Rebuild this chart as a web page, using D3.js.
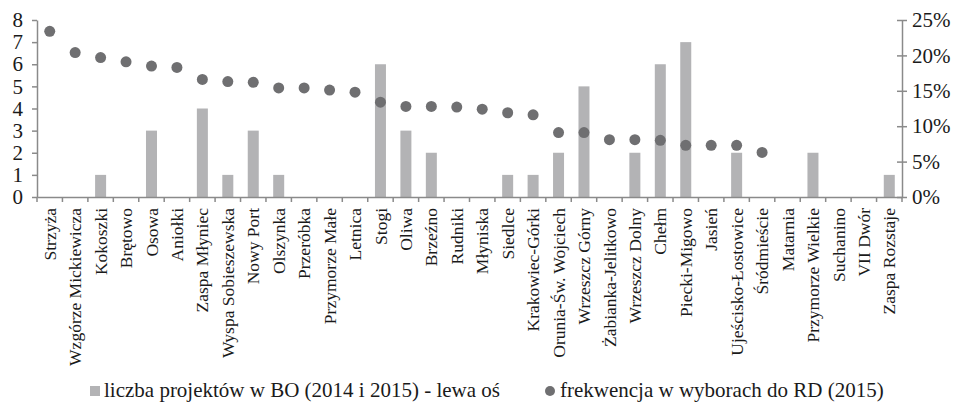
<!DOCTYPE html>
<html><head><meta charset="utf-8">
<script src="https://cdn.jsdelivr.net/npm/d3@7"></script>
<style>
html,body{margin:0;padding:0;background:#fff;}
svg{display:block;font-family:"Liberation Serif","Times New Roman",serif;}
</style></head>
<body>
<svg id="c" width="960" height="406"></svg>
<script>
const categories = ["Strzyża","Wzgórze Mickiewicza","Kokoszki","Brętowo","Osowa","Aniołki","Zaspa Młyniec","Wyspa Sobieszewska","Nowy Port","Olszynka","Przeróbka","Przymorze Małe","Letnica","Stogi","Oliwa","Brzeźno","Rudniki","Młyniska","Siedlce","Krakowiec-Górki","Orunia-Św. Wojciech","Wrzeszcz Górny","Żabianka-Jelitkowo","Wrzeszcz Dolny","Chełm","Piecki-Migowo","Jasień","Ujeścisko-Łostowice","Śródmieście","Matarnia","Przymorze Wielkie","Suchanino","VII Dwór","Zaspa Rozstaje"];
const projects = [0,0,1,0,3,0,4,1,3,1,0,0,0,6,3,2,0,0,1,1,2,5,0,2,6,7,0,2,0,0,2,0,0,1];
const turnout = [23.4,20.4,19.7,19.1,18.5,18.3,16.6,16.3,16.2,15.4,15.4,15.1,14.8,13.4,12.8,12.8,12.7,12.4,11.9,11.6,9.1,9.1,8.1,8.1,8.0,7.3,7.3,7.3,6.3,null,null,null,null,null];
const leftTicks = [0,1,2,3,4,5,6,7,8];
const rightTicks = [0,5,10,15,20,25];
const legendLabels = ["liczba projektów w BO (2014 i 2015) - lewa oś","frekwencja w wyborach do RD (2015)"];

const svg = d3.select("#c");
const X0 = 37, X1 = 902, Y0 = 197, Y1 = 20;
const barColor = "#b3b3b5", dotColor = "#6f6f71", axisColor = "#8a8a8a", textColor = "#1a1a1a";

const x = d3.scaleBand().domain(categories).range([X0, X1]).padding(0);
const yL = d3.scaleLinear().domain([0, 8]).range([Y0, Y1]);
const yR = d3.scaleLinear().domain([0, 25]).range([Y0, Y1]);
const bw = 11;

// bars
svg.append("g").selectAll("rect").data(categories.map((c,i)=>({c, v: projects[i]})).filter(d=>d.v>0))
  .join("rect")
  .attr("x", d => x(d.c) + x.bandwidth()/2 - bw/2)
  .attr("y", d => yL(d.v))
  .attr("width", bw)
  .attr("height", d => Y0 - yL(d.v))
  .attr("fill", barColor);

// dots
svg.append("g").selectAll("circle").data(categories.map((c,i)=>({c, v: turnout[i]})).filter(d=>d.v!=null))
  .join("circle")
  .attr("cx", d => x(d.c) + x.bandwidth()/2)
  .attr("cy", d => yR(d.v))
  .attr("r", 5.5)
  .attr("fill", dotColor);

// left axis
const gL = svg.append("g").attr("transform", `translate(${X0},0)`)
  .call(d3.axisLeft(yL).tickValues(leftTicks).tickSize(5).tickSizeOuter(0).tickPadding(9).tickFormat(d3.format("d")));
// right axis
const gR = svg.append("g").attr("transform", `translate(${X1},0)`)
  .call(d3.axisRight(yR).tickValues(rightTicks).tickSize(5).tickSizeOuter(0).tickPadding(5).tickFormat(d => d + "%"));
gR.selectAll(".tick line").attr("x1", -5).attr("x2", 5);
[gL, gR].forEach(g => {
  g.select(".domain").attr("stroke", axisColor).attr("stroke-width", 1.5);
  g.selectAll(".tick line").attr("stroke", axisColor).attr("stroke-width", 1.5);
  g.selectAll(".tick text").attr("fill", textColor).style("font-size", "21px").style("font-family", "Liberation Serif");
});

// x axis
const gX = svg.append("g").attr("transform", `translate(0,${Y0})`)
  .call(d3.axisBottom(x).tickSize(0).tickSizeOuter(0));
gX.select(".domain").attr("stroke", axisColor).attr("stroke-width", 1.5);
const bounds = categories.map(c => x(c)).concat([X1]);
gX.selectAll(".btick").data(bounds).join("line").attr("class","btick")
  .attr("x1", d => d).attr("x2", d => d).attr("y1", 0).attr("y2", 5)
  .attr("stroke", axisColor).attr("stroke-width", 1.5);
gX.selectAll(".tick text")
  .attr("fill", textColor)
  .style("font-size", "17.5px").style("font-family", "Liberation Serif")
  .attr("text-anchor", "end")
  .attr("transform", "rotate(-90)")
  .attr("x", -11).attr("y", 0).attr("dy", "0.35em");

// legend
const lg = svg.append("g").style("font-size", "21px").attr("fill", textColor);
lg.append("rect").attr("x", 90).attr("y", 386).attr("width", 10).attr("height", 10).attr("fill", barColor);
lg.append("text").attr("x", 104).attr("y", 397).text(legendLabels[0]);
lg.append("circle").attr("cx", 550).attr("cy", 391).attr("r", 5).attr("fill", dotColor);
lg.append("text").attr("x", 560).attr("y", 397).text(legendLabels[1]);
</script>
</body></html>
